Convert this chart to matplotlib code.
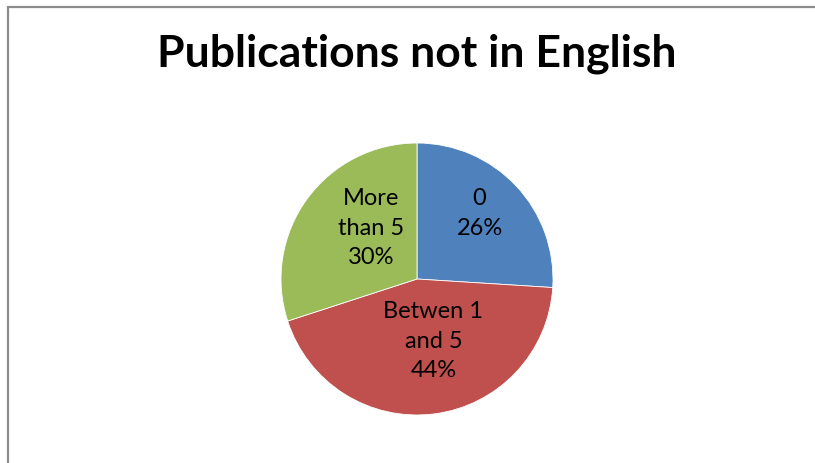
import numpy as np
import matplotlib.pyplot as plt
from matplotlib.patches import Rectangle

# data
categories = ["0", "Betwen 1 and 5", "More than 5"]
label_text = ["0", "Betwen 1\nand 5", "More\nthan 5"]
shares = [26, 44, 30]
colors = ["#4F81BD", "#C0504D", "#9BBB59"]

# label positions inside the pie (radius units), as Excel placed them
label_xy = [(0.46, 0.49), (0.12, -0.45), (-0.34, 0.38)]

plt.rcParams['font.family'] = ['Lato', 'DejaVu Sans']

fig = plt.figure(figsize=(8.15, 4.64), dpi=100)

# outer chart border (runs off the right and bottom edges)
fig.patches.append(Rectangle((7.5 / 815, -0.1), 1.2, (464 - 7.5) / 464 + 0.1,
                             transform=fig.transFigure, fill=False,
                             edgecolor="#8c8c8c", linewidth=1.6))

fig.text(417 / 815, 1 - 67 / 464, "Publications not in English",
         ha="center", va="baseline", fontsize=32, fontweight="bold")

ax = fig.add_axes([(417 - 136) / 815, (464 - 416) / 464, 272 / 815, 272 / 464])
wedges, _ = ax.pie(shares, colors=colors, startangle=90, counterclock=False,
                   radius=1.0, wedgeprops=dict(linewidth=0.6, edgecolor="white"))
ax.set_xlim(-1, 1)
ax.set_ylim(-1, 1)
ax.set_aspect("auto")
ax.axis("off")

for txt, val, (x, y) in zip(label_text, shares, label_xy):
    ax.text(x, y, f"{txt}\n{val}%", ha="center", va="center",
            fontsize=17, linespacing=1.5, color="black")

fig.savefig("out.png", dpi=100)
